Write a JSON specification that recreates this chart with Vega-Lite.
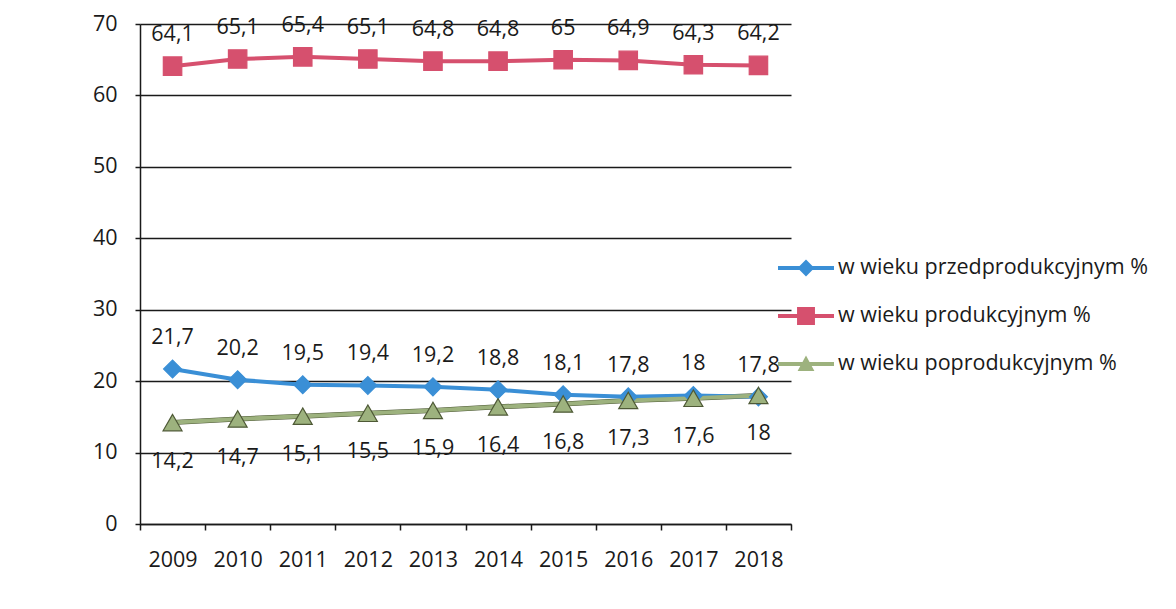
{
  "$schema": "https://vega.github.io/schema/vega-lite/v6.json",
  "width": 651,
  "height": 500,
  "autosize": {"type": "none"},
  "padding": {"left": 140, "top": 24, "right": 385, "bottom": 85},
  "background": "white",
  "config": {
    "view": {"stroke": null},
    "font": "Open Sans",
    "locale": {"number": {"decimal": ",", "thousands": " ", "grouping": [3], "currency": ["", " zł"]}},
    "axis": {"labelFont": "Open Sans", "labelFontSize": 21.5, "labelColor": "#1a1a1a", "domainColor": "#1a1a1a", "tickColor": "#1a1a1a", "domainWidth": 1.5, "tickWidth": 1.5, "gridColor": "#1a1a1a", "gridWidth": 1.3, "title": null}
  },
  "data": {
    "values": [
      {"rok": "2009", "seria": "w wieku przedprodukcyjnym %", "v": 21.7},
      {"rok": "2010", "seria": "w wieku przedprodukcyjnym %", "v": 20.2},
      {"rok": "2011", "seria": "w wieku przedprodukcyjnym %", "v": 19.5},
      {"rok": "2012", "seria": "w wieku przedprodukcyjnym %", "v": 19.4},
      {"rok": "2013", "seria": "w wieku przedprodukcyjnym %", "v": 19.2},
      {"rok": "2014", "seria": "w wieku przedprodukcyjnym %", "v": 18.8},
      {"rok": "2015", "seria": "w wieku przedprodukcyjnym %", "v": 18.1},
      {"rok": "2016", "seria": "w wieku przedprodukcyjnym %", "v": 17.8},
      {"rok": "2017", "seria": "w wieku przedprodukcyjnym %", "v": 18},
      {"rok": "2018", "seria": "w wieku przedprodukcyjnym %", "v": 17.8},
      {"rok": "2009", "seria": "w wieku produkcyjnym %", "v": 64.1},
      {"rok": "2010", "seria": "w wieku produkcyjnym %", "v": 65.1},
      {"rok": "2011", "seria": "w wieku produkcyjnym %", "v": 65.4},
      {"rok": "2012", "seria": "w wieku produkcyjnym %", "v": 65.1},
      {"rok": "2013", "seria": "w wieku produkcyjnym %", "v": 64.8},
      {"rok": "2014", "seria": "w wieku produkcyjnym %", "v": 64.8},
      {"rok": "2015", "seria": "w wieku produkcyjnym %", "v": 65},
      {"rok": "2016", "seria": "w wieku produkcyjnym %", "v": 64.9},
      {"rok": "2017", "seria": "w wieku produkcyjnym %", "v": 64.3},
      {"rok": "2018", "seria": "w wieku produkcyjnym %", "v": 64.2},
      {"rok": "2009", "seria": "w wieku poprodukcyjnym %", "v": 14.2},
      {"rok": "2010", "seria": "w wieku poprodukcyjnym %", "v": 14.7},
      {"rok": "2011", "seria": "w wieku poprodukcyjnym %", "v": 15.1},
      {"rok": "2012", "seria": "w wieku poprodukcyjnym %", "v": 15.5},
      {"rok": "2013", "seria": "w wieku poprodukcyjnym %", "v": 15.9},
      {"rok": "2014", "seria": "w wieku poprodukcyjnym %", "v": 16.4},
      {"rok": "2015", "seria": "w wieku poprodukcyjnym %", "v": 16.8},
      {"rok": "2016", "seria": "w wieku poprodukcyjnym %", "v": 17.3},
      {"rok": "2017", "seria": "w wieku poprodukcyjnym %", "v": 17.6},
      {"rok": "2018", "seria": "w wieku poprodukcyjnym %", "v": 18}
    ]
  },
  "encoding": {
    "x": {
      "field": "rok", "type": "ordinal",
      "scale": {"type": "band", "paddingInner": 0, "paddingOuter": 0},
      "axis": {"labelAngle": 0, "tickBand": "extent", "tickSize": 6, "labelPadding": 19, "grid": false}
    },
    "y": {
      "field": "v", "type": "quantitative",
      "scale": {"domain": [0, 70], "nice": false, "zero": true},
      "axis": {"values": [0, 10, 20, 30, 40, 50, 60, 70], "tickSize": 5, "labelPadding": 18, "grid": true, "format": "d"}
    },
    "color": {
      "field": "seria", "type": "nominal",
      "scale": {
        "domain": ["w wieku przedprodukcyjnym %", "w wieku produkcyjnym %", "w wieku poprodukcyjnym %"],
        "range": ["#3A8FD6", "#D6506E", "#9DB27E"]
      },
      "legend": null
    }
  },
  "layer": [
    {
      "transform": [{"filter": "datum.seria == 'w wieku poprodukcyjnym %'"}],
      "mark": {"type": "line", "strokeWidth": 5, "color": "#4E5936"},
      "encoding": {"color": {"value": "#4E5936"}}
    },
    {
      "mark": {"type": "line", "strokeWidth": 4},
      "encoding": {"detail": {"field": "seria"}}
    },
    {
      "transform": [{"filter": "datum.seria == 'w wieku poprodukcyjnym %'"}],
      "mark": {"type": "line", "strokeWidth": 2.5, "color": "#9DB27E"},
      "encoding": {"color": {"value": "#9DB27E"}}
    },
    {
      "mark": {"type": "point", "filled": true, "opacity": 1, "strokeWidth": 1.2},
      "encoding": {
        "shape": {
          "field": "seria", "type": "nominal",
          "scale": {
            "domain": ["w wieku przedprodukcyjnym %", "w wieku produkcyjnym %", "w wieku poprodukcyjnym %"],
            "range": ["diamond", "square", "triangle-up"]
          },
          "legend": null
        },
        "size": {
          "field": "seria", "type": "nominal",
          "scale": {
            "domain": ["w wieku przedprodukcyjnym %", "w wieku produkcyjnym %", "w wieku poprodukcyjnym %"],
            "range": [320, 360, 250]
          },
          "legend": null
        },
        "stroke": {
          "field": "seria", "type": "nominal",
          "scale": {
            "domain": ["w wieku przedprodukcyjnym %", "w wieku produkcyjnym %", "w wieku poprodukcyjnym %"],
            "range": ["#3A8FD6", "#D6506E", "#4E5936"]
          },
          "legend": null
        }
      }
    },
    {
      "transform": [{"filter": "datum.seria != 'w wieku poprodukcyjnym %'"}],
      "mark": {"type": "text", "dy": -31, "fontSize": 21.5, "font": "Open Sans", "color": "#1a1a1a", "baseline": "middle"},
      "encoding": {"text": {"field": "v", "type": "quantitative", "format": ".3~r"}, "color": {"value": "#1a1a1a"}}
    },
    {
      "transform": [{"filter": "datum.seria == 'w wieku poprodukcyjnym %'"}],
      "mark": {"type": "text", "dy": 39, "fontSize": 21.5, "font": "Open Sans", "color": "#1a1a1a", "baseline": "middle"},
      "encoding": {"text": {"field": "v", "type": "quantitative", "format": ".3~r"}, "color": {"value": "#1a1a1a"}}
    },
    {
      "transform": [{"filter": "false"}],
      "mark": {"type": "point", "filled": true},
      "encoding": {
        "color": {
          "field": "seria", "type": "nominal",
          "legend": {
            "orient": "none", "legendX": 638, "legendY": 216, "title": null,
            "labelFont": "Open Sans", "labelFontSize": 21.5, "labelColor": "#1a1a1a", "labelLimit": 500,
            "labelOffset": 4, "rowPadding": 9, "symbolStrokeWidth": 0, "symbolOpacity": 1, "symbolSize": 3136
          }
        },
        "shape": {
          "field": "seria", "type": "nominal",
          "scale": {
            "domain": ["w wieku przedprodukcyjnym %", "w wieku produkcyjnym %", "w wieku poprodukcyjnym %"],
            "range": [
              "M-1,-0.07L1,-0.07L1,0.07L-1,0.07Z M0,-0.3L0.3,0L0,0.3L-0.3,0Z",
              "M-1,-0.07L1,-0.07L1,0.07L-1,0.07Z M-0.32,-0.32L0.32,-0.32L0.32,0.32L-0.32,0.32Z",
              "M-1,-0.07L1,-0.07L1,0.07L-1,0.07Z M0,-0.3L0.3,0.25L-0.3,0.25Z"
            ]
          },
          "legend": {
            "orient": "none", "legendX": 638, "legendY": 216, "title": null,
            "labelFont": "Open Sans", "labelFontSize": 21.5, "labelColor": "#1a1a1a", "labelLimit": 500,
            "labelOffset": 4, "rowPadding": 9, "symbolStrokeWidth": 0, "symbolOpacity": 1, "symbolSize": 3136
          }
        }
      }
    }
  ],
  "resolve": {"scale": {"shape": "independent", "size": "independent"}, "legend": {"shape": "independent", "color": "independent"}}
}
